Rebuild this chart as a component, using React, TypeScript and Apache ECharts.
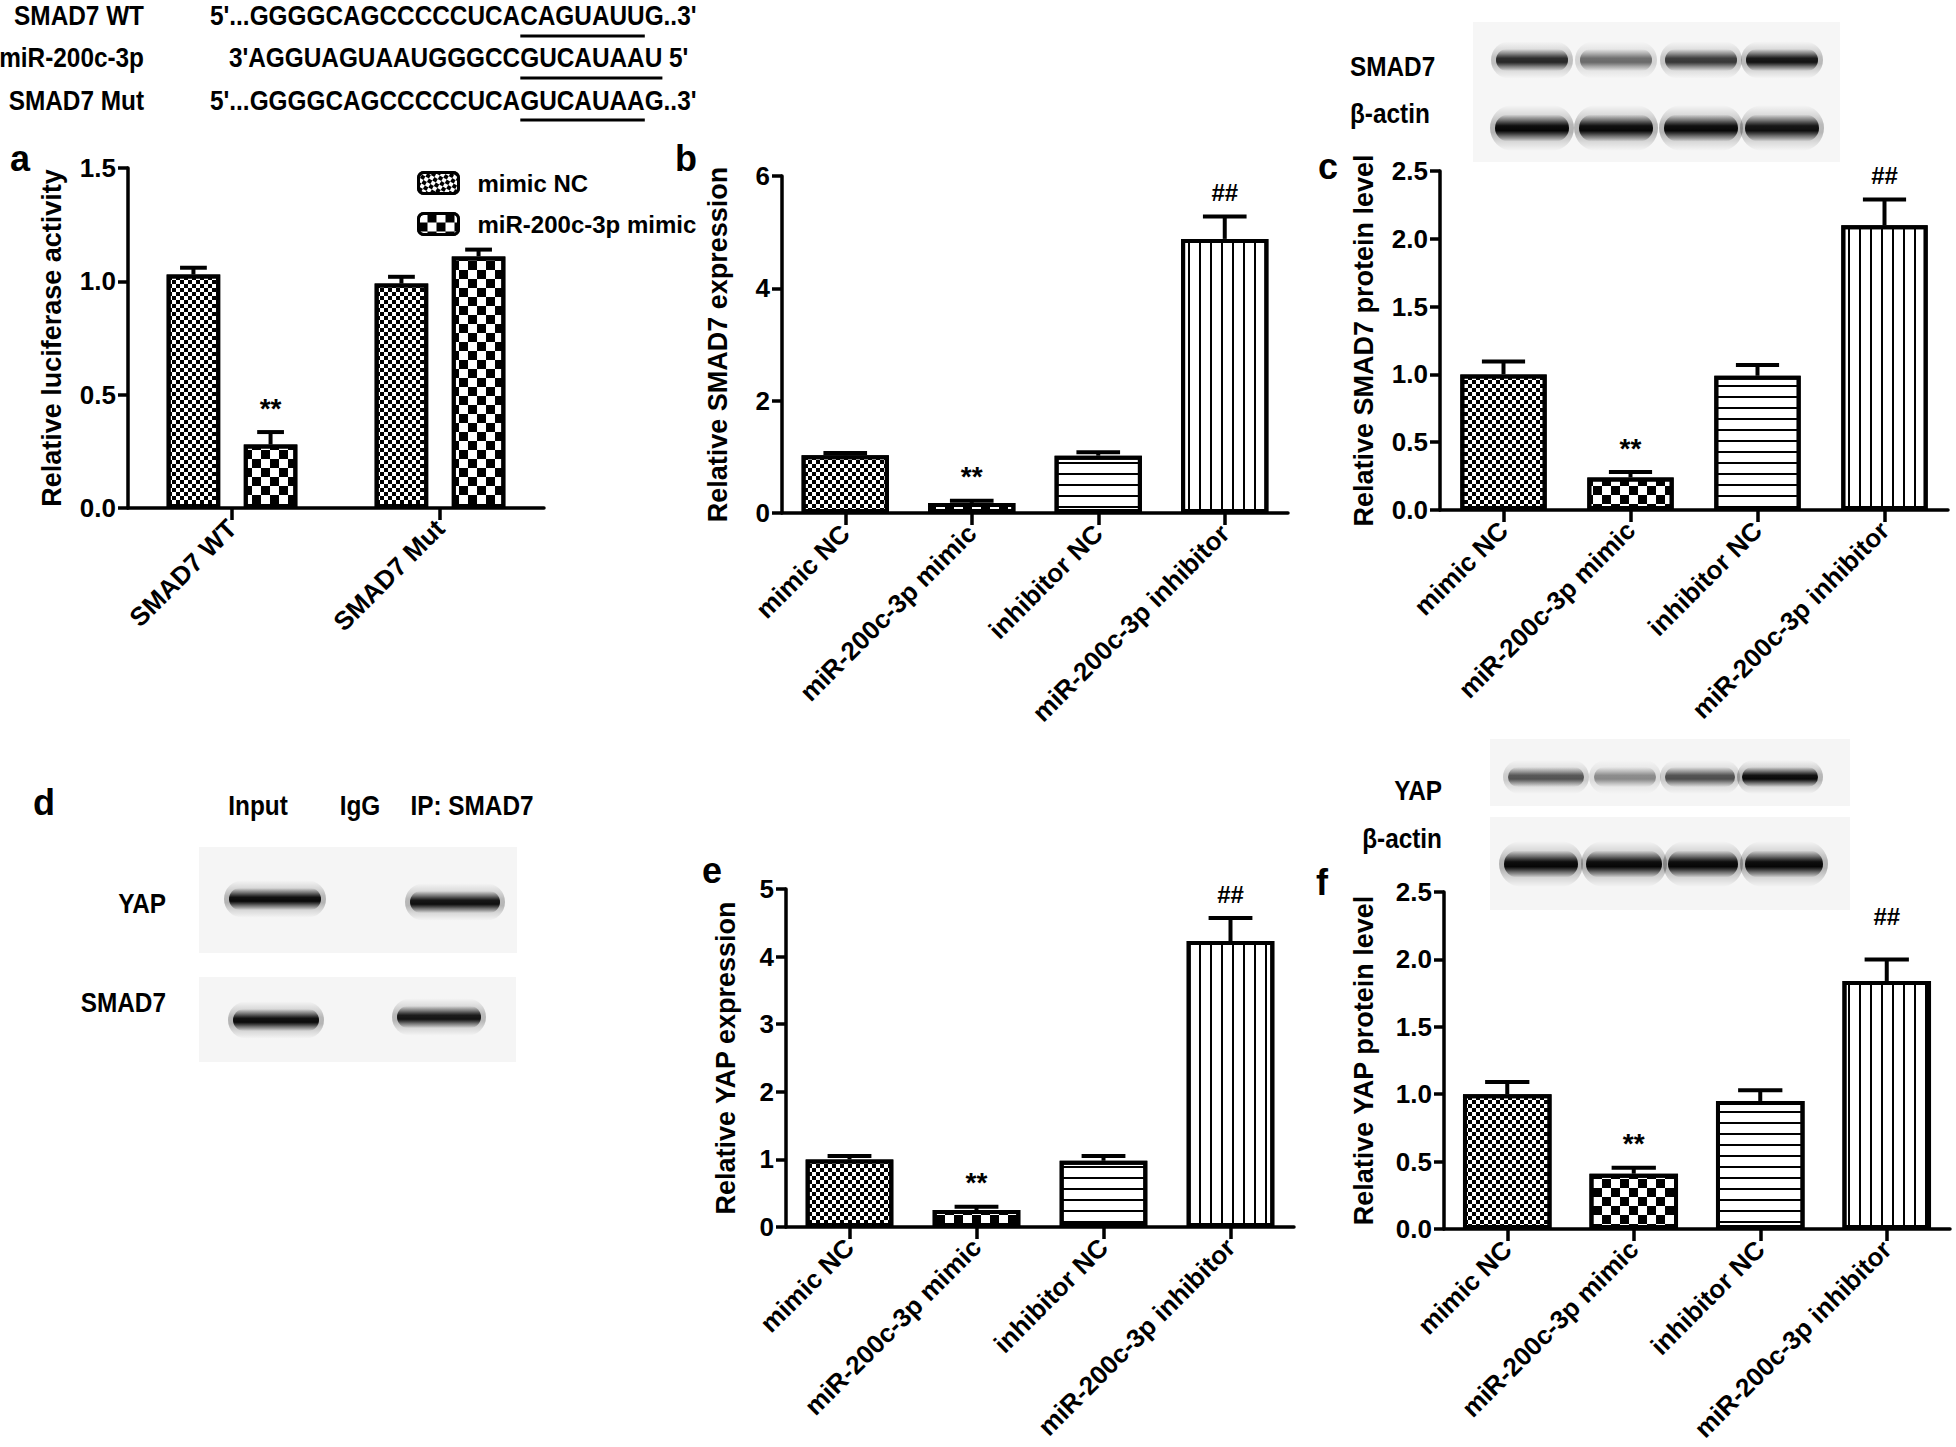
import React, { useEffect, useRef } from 'react';
import * as echarts from 'echarts';

const FONT = '"Liberation Sans", Arial, Helvetica, sans-serif';

// ---------- sequence alignment (top left) ----------
const sequenceNames = ['SMAD7 WT', 'miR-200c-3p', 'SMAD7 Mut'];
const sequencePrefixes = ["5'...GGGGCAGCCCCCUCA", "3'AGGUAGUAAUGGGCC", "5'...GGGGCAGCCCCCUCA"];
const sequenceSeeds = ['CAGUAUU', 'GUCAUAAU', 'GUCAUAA'];
const sequenceSuffixes = ["G..3'", " 5'", "G..3'"];

// ---------- panel a ----------
const reporterGroups = ['SMAD7 WT', 'SMAD7 Mut'];
const reporterSeriesNames = ['mimic NC', 'miR-200c-3p mimic'];
const luciferaseMimicNC = [1.03, 0.99];
const luciferaseMimicNCSem = [0.03, 0.03];
const luciferaseMimic = [0.28, 1.11];
const luciferaseMimicSem = [0.055, 0.03];
const luciferaseMimicNCMarks = ['', ''];
const luciferaseMimicMarks = ['**', ''];
const luciferaseTicks = [0, 0.5, 1.0, 1.5];

// ---------- panels b, c, e, f ----------
const treatmentGroups = ['mimic NC', 'miR-200c-3p mimic', 'inhibitor NC', 'miR-200c-3p inhibitor'];
const treatmentMarks = ['', '**', '', '##'];
const smad7mRNA = [1.03, 0.18, 1.02, 4.88];
const smad7mRNASem = [0.04, 0.04, 0.06, 0.4];
const smad7mRNATicks = [0, 2, 4, 6];
const smad7Protein = [1.0, 0.24, 0.99, 2.1];
const smad7ProteinSem = [0.095, 0.04, 0.08, 0.19];
const yapmRNA = [1.0, 0.25, 0.98, 4.23];
const yapmRNASem = [0.05, 0.05, 0.07, 0.34];
const yapmRNATicks = [0, 1, 2, 3, 4, 5];
const yapProtein = [1.0, 0.41, 0.95, 1.84];
const yapProteinSem = [0.09, 0.045, 0.08, 0.16];
const proteinTicks = [0, 0.5, 1.0, 1.5, 2.0, 2.5];

// ---------- blot band intensities ----------
const smad7BlotBands = [0.8, 0.5, 0.72, 0.9];
const smad7ActinBands = [0.97, 0.96, 0.96, 0.92];
const yapBlotBands = [0.6, 0.38, 0.62, 0.95];
const yapActinBands = [0.97, 0.97, 0.97, 0.97];
const coIPLanes = ['Input', 'IgG', 'IP: SMAD7'];
const coIPYapBands = [0.95, 0, 0.92];
const coIPSmad7Bands = [0.95, 0, 0.9];

// ---------- styles ----------
const fineCheck = { symbol: 'rect', symbolSize: 1, dashArrayX: [[4, 4], [0, 4, 4, 0]], dashArrayY: [4, 0], color: '#000', backgroundColor: '#fff' };
const coarseCheck = { symbol: 'rect', symbolSize: 1, dashArrayX: [[9, 9], [0, 9, 9, 0]], dashArrayY: [9, 0], color: '#000', backgroundColor: '#fff' };
const hLines = { symbol: 'rect', symbolSize: 1, dashArrayX: [1, 0], dashArrayY: [2, 9], color: '#000', backgroundColor: '#fff' };
const vLines = { symbol: 'rect', symbolSize: 1, dashArrayX: [2, 9], dashArrayY: [1, 0], color: '#000', backgroundColor: '#fff' };
const treatmentDecals = [fineCheck, coarseCheck, hLines, vLines];

const LABEL_SCALE = 0.87;

function measure(txt: string, size: number): number {
  const ctx = document.createElement('canvas').getContext('2d');
  if (!ctx) return txt.length * size * 0.6;
  ctx.font = `bold ${size}px ${FONT}`;
  return ctx.measureText(txt).width;
}

function axes(gridIndex: number, cats: string[], ticks: number[], decimals: number, name: string, nameGap: number) {
  const xAxis = {
    type: 'category', gridIndex, data: cats, boundaryGap: true,
    axisLine: { show: true, lineStyle: { color: '#000', width: 3.5 } },
    axisTick: { show: true, alignWithLabel: true, interval: 0, length: 12, lineStyle: { color: '#000', width: 3.5 } },
    axisLabel: { interval: 0, rotate: 45, margin: 16, color: '#000', fontSize: 26, fontWeight: 'bold', fontFamily: FONT },
    splitLine: { show: false },
  };
  const yAxis = {
    type: 'value', gridIndex,
    min: ticks[0], max: ticks[ticks.length - 1], interval: ticks[1] - ticks[0],
    name, nameLocation: 'middle', nameGap,
    nameTextStyle: { color: '#000', fontSize: 27, fontWeight: 'bold', fontFamily: FONT },
    axisLine: { show: true, lineStyle: { color: '#000', width: 3.5 } },
    axisTick: { show: true, length: 10, lineStyle: { color: '#000', width: 3.5 } },
    axisLabel: { margin: 12, color: '#000', fontSize: 26, fontWeight: 'bold', fontFamily: FONT, formatter: (v: number) => v.toFixed(decimals) },
    splitLine: { show: false },
  };
  return { xAxis, yAxis };
}

function errorSeries(gi: number, vals: number[], sems: number[], marks: string[], offsetFactor: number, barRatio: number, lifts: number[]) {
  return {
    type: 'custom', xAxisIndex: gi, yAxisIndex: gi, z: 5, silent: true, clip: false,
    data: vals.map((v, i) => [i, v]),
    encode: { x: 0, y: 1 },
    renderItem: (params: any, api: any) => {
      const i = params.dataIndex;
      const p0 = api.coord([i, vals[i]]);
      const p1 = api.coord([i, vals[i] + sems[i]]);
      const band = api.size([1, 0])[0];
      const bw = band * barRatio;
      const x = p0[0] + offsetFactor * bw;
      const half = bw * 0.25;
      const children: any[] = [
        { type: 'line', shape: { x1: x, y1: p0[1], x2: x, y2: p1[1] }, style: { stroke: '#000', lineWidth: 4 } },
        { type: 'line', shape: { x1: x - half, y1: p1[1], x2: x + half, y2: p1[1] }, style: { stroke: '#000', lineWidth: 4 } },
      ];
      if (marks[i]) {
        children.push({
          type: 'text', x, y: p1[1] - lifts[i],
          style: { text: marks[i], fill: '#000', fontSize: marks[i] === '##' ? 24 : 28, fontWeight: 'bold', fontFamily: FONT, align: 'center', verticalAlign: 'middle' },
        });
      }
      return { type: 'group', children };
    },
  };
}

function barSeries(gi: number, name: string, vals: number[], decals: any[], barWidth: string, extra: any = {}) {
  return {
    type: 'bar', name, xAxisIndex: gi, yAxisIndex: gi, barWidth, z: 2,
    itemStyle: { color: '#fff', borderColor: '#000', borderWidth: 4, decal: decals[0] },
    data: vals.map((v, i) => ({ value: v, itemStyle: { decal: decals[i % decals.length] } })),
    ...extra,
  };
}

function softRect(cx: number, cy: number, w: number, h: number, alpha: number) {
  const c = (k: number) => `rgba(0,0,0,${(alpha * k).toFixed(3)})`;
  return {
    type: 'rect', silent: true,
    shape: { x: cx - w / 2, y: cy - h / 2, width: w, height: h, r: h / 2 },
    style: {
      fill: new echarts.graphic.LinearGradient(0, 0, 0, 1, [
        { offset: 0, color: c(0) },
        { offset: 0.22, color: c(0.45) },
        { offset: 0.42, color: c(0.95) },
        { offset: 0.6, color: c(1) },
        { offset: 0.8, color: c(0.45) },
        { offset: 1, color: c(0) },
      ]),
    },
  };
}

function band(g: any[], cx: number, cy: number, w: number, h: number, alpha: number) {
  if (alpha <= 0) return;
  // soft halo and dense core
  g.push(softRect(cx, cy, w + 10, h * 1.7, alpha * 0.28));
  g.push(softRect(cx, cy, w, h, alpha));
}

function label(text: string, x: number, y: number, align: string, size = 28, scale = LABEL_SCALE) {
  return {
    type: 'text', x, y, scaleX: scale, silent: true,
    style: { text, fill: '#000', fontSize: size, fontWeight: 'bold', fontFamily: FONT, align, verticalAlign: 'middle' },
  };
}

function buildGraphics() {
  const g: any[] = [];
  // sequences
  const seqSize = 28;
  const lineY = [15, 57, 100];
  const underY = [36, 78, 120];
  const seedStart = 210 + measure(sequencePrefixes[0], seqSize) * LABEL_SCALE;
  sequenceNames.forEach((n, i) => {
    g.push(label(n, 144, lineY[i], 'right', seqSize));
    const x = seedStart - measure(sequencePrefixes[i], seqSize) * LABEL_SCALE;
    g.push(label(sequencePrefixes[i] + sequenceSeeds[i] + sequenceSuffixes[i], x, lineY[i], 'left', seqSize));
    const w = measure(sequenceSeeds[i], seqSize) * LABEL_SCALE;
    g.push({ type: 'line', silent: true, shape: { x1: seedStart, y1: underY[i], x2: seedStart + w, y2: underY[i] }, style: { stroke: '#000', lineWidth: 3 } });
  });

  // panel letters
  const letters: [string, number, number][] = [['a', 20, 158], ['b', 686, 158], ['c', 1328, 166], ['d', 44, 802], ['e', 712, 870], ['f', 1322, 882]];
  letters.forEach(([t, x, y]) => g.push({ type: 'text', x, y, silent: true, style: { text: t, fill: '#000', fontSize: 36, fontWeight: 'bold', fontFamily: FONT, align: 'center', verticalAlign: 'middle' } }));

  // blot c
  g.push({ type: 'rect', silent: true, shape: { x: 1473, y: 22, width: 367, height: 140 }, style: { fill: '#f6f6f6' } });
  const cLanes = [1532, 1616, 1701, 1782];
  const cW = [72, 72, 72, 72];
  cLanes.forEach((cx, i) => {
    band(g, cx, 60, cW[i], 22, smad7BlotBands[i]);
    band(g, cx, 128, cW[i] + 2, 27, smad7ActinBands[i]);
  });
  g.push(label('SMAD7', 1350, 66, 'left'));
  g.push(label('β-actin', 1350, 113, 'left'));

  // blot d (co-IP)
  g.push({ type: 'rect', silent: true, shape: { x: 199, y: 847, width: 318, height: 106 }, style: { fill: '#f5f5f5' } });
  g.push({ type: 'rect', silent: true, shape: { x: 199, y: 977, width: 317, height: 85 }, style: { fill: '#f5f5f5' } });
  const dLaneX = [258, 360, 472];
  coIPLanes.forEach((t, i) => g.push(label(t, dLaneX[i], 805, 'center')));
  const dYapX = [275, 360, 455];
  const dYapY = [899, 900, 902];
  const dYapW = [92, 0, 90];
  const dSmadX = [276, 360, 439];
  const dSmadY = [1020, 1018, 1017];
  const dSmadW = [86, 0, 84];
  coIPYapBands.forEach((a, i) => band(g, dYapX[i], dYapY[i], dYapW[i], 22, a));
  coIPSmad7Bands.forEach((a, i) => band(g, dSmadX[i], dSmadY[i], dSmadW[i], 22, a));
  g.push(label('YAP', 166, 903, 'right'));
  g.push(label('SMAD7', 166, 1002, 'right'));

  // blot f
  g.push({ type: 'rect', silent: true, shape: { x: 1490, y: 739, width: 360, height: 67 }, style: { fill: '#f5f5f5' } });
  g.push({ type: 'rect', silent: true, shape: { x: 1490, y: 817, width: 360, height: 93 }, style: { fill: '#f5f5f5' } });
  const fYapX = [1546, 1625, 1700, 1780];
  const fYapW = [76, 62, 70, 76];
  const fActX = [1541, 1624, 1703, 1784];
  const fActW = [74, 76, 70, 78];
  fYapX.forEach((cx, i) => band(g, cx, 777, fYapW[i], 20, yapBlotBands[i]));
  fActX.forEach((cx, i) => band(g, cx, 864, fActW[i], 27, yapActinBands[i]));
  g.push(label('YAP', 1442, 790, 'right'));
  g.push(label('β-actin', 1442, 838, 'right'));
  return g;
}

function buildOption() {
  const grids = [
    { left: 128, top: 168, width: 416, height: 340 },
    { left: 782, top: 176, width: 506, height: 337 },
    { left: 1440, top: 171, width: 508, height: 339 },
    { left: 786, top: 889, width: 508, height: 338 },
    { left: 1444, top: 892, width: 506, height: 337 },
  ];
  const ax = [
    axes(0, reporterGroups, luciferaseTicks, 1, 'Relative luciferase activity', 63),
    axes(1, treatmentGroups, smad7mRNATicks, 0, 'Relative SMAD7 expression', 51),
    axes(2, treatmentGroups, proteinTicks, 1, 'Relative SMAD7 protein level', 63),
    axes(3, treatmentGroups, yapmRNATicks, 0, 'Relative YAP expression', 47),
    axes(4, treatmentGroups, proteinTicks, 1, 'Relative YAP protein level', 67),
  ];
  const std = [24, 24, 24, 24];
  const series: any[] = [
    barSeries(0, reporterSeriesNames[0], luciferaseMimicNC, [fineCheck], '25.75%', { barGap: '44%' }),
    barSeries(0, reporterSeriesNames[1], luciferaseMimic, [coarseCheck], '25.75%', { barGap: '44%' }),
    errorSeries(0, luciferaseMimicNC, luciferaseMimicNCSem, luciferaseMimicNCMarks, -0.72, 0.2575, [24, 24]),
    errorSeries(0, luciferaseMimic, luciferaseMimicSem, luciferaseMimicMarks, 0.72, 0.2575, [24, 24]),
    barSeries(1, 'SMAD7 mRNA', smad7mRNA, treatmentDecals, '69%'),
    errorSeries(1, smad7mRNA, smad7mRNASem, treatmentMarks, 0, 0.69, std),
    barSeries(2, 'SMAD7 protein', smad7Protein, treatmentDecals, '68%'),
    errorSeries(2, smad7Protein, smad7ProteinSem, treatmentMarks, 0, 0.68, std),
    barSeries(3, 'YAP mRNA', yapmRNA, treatmentDecals, '69%'),
    errorSeries(3, yapmRNA, yapmRNASem, treatmentMarks, 0, 0.69, std),
    barSeries(4, 'YAP protein', yapProtein, treatmentDecals, '70%'),
    errorSeries(4, yapProtein, yapProteinSem, treatmentMarks, 0, 0.7, [24, 24, 24, 43]),
  ];
  return {
    animation: false,
    backgroundColor: '#fff',
    aria: { enabled: true, decal: { show: true } },
    textStyle: { fontFamily: FONT },
    grid: grids.map((g) => ({ ...g, containLabel: false })),
    xAxis: ax.map((a) => a.xAxis),
    yAxis: ax.map((a) => a.yAxis),
    legend: {
      data: reporterSeriesNames, orient: 'vertical', left: 412, top: 166,
      itemWidth: 40, itemHeight: 21, itemGap: 17, icon: 'roundRect', selectedMode: false,
      itemStyle: { borderColor: '#000', borderWidth: 3 },
      textStyle: { color: '#000', fontSize: 24, fontWeight: 'bold', fontFamily: FONT, padding: [0, 0, 0, 14] },
    },
    series,
    graphic: buildGraphics(),
  };
}

export default function App() {
  const ref = useRef<HTMLDivElement>(null);
  useEffect(() => {
    document.body.style.margin = '0';
    if (!ref.current) return;
    const chart = echarts.init(ref.current, null, { renderer: 'svg' });
    chart.setOption(buildOption() as any);
    return () => chart.dispose();
  }, []);
  return <div ref={ref} style={{ width: 1956, height: 1447, background: '#fff' }} />;
}
